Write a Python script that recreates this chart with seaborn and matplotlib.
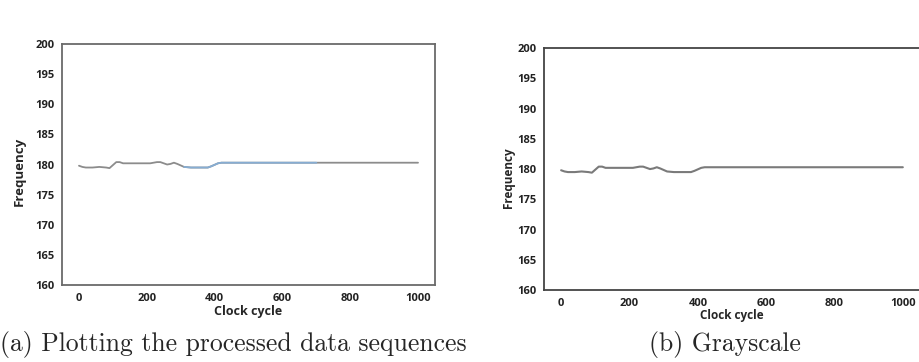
import matplotlib
matplotlib.use("Agg")
import matplotlib.pyplot as plt
import seaborn as sns
import pandas as pd

# Frequency trace over clock cycles (breakpoints of the piecewise trace)
clock = [0, 10, 20, 40, 60, 80, 90, 100, 110, 120, 130, 160, 200, 210, 230,
         240, 260, 270, 280, 290, 310, 330, 360, 380, 390, 410, 420, 500,
         600, 700, 800, 900, 1000]
freq = [179.8, 179.6, 179.5, 179.5, 179.6, 179.5, 179.4, 179.9, 180.4, 180.4,
        180.2, 180.2, 180.2, 180.2, 180.4, 180.4, 180.0, 180.1, 180.3, 180.1,
        179.6, 179.5, 179.5, 179.5, 179.7, 180.2, 180.3, 180.3, 180.3, 180.3,
        180.3, 180.3, 180.3]
y_ticks = [160, 165, 170, 175, 180, 185, 190, 195, 200]
x_ticks = [0, 200, 400, 600, 800, 1000]
captions = ["(a) Plotting the processed data sequences", "(b) Grayscale"]

sns.set_style("white")
plt.rcParams["font.family"] = ["Open Sans", "DejaVu Sans"]

df = pd.DataFrame({"Clock cycle": clock, "Frequency": freq})
blue_part = df[(df["Clock cycle"] >= 300) & (df["Clock cycle"] <= 750)]

fig = plt.figure(figsize=(9.19, 3.62), dpi=100)
ax_a = fig.add_axes([0.0675, 0.2127, 0.4058, 0.6657])
ax_b = fig.add_axes([0.592, 0.1990, 0.409, 0.668])

# (a) colour plot: gray trace with a blue stretch
sns.lineplot(data=df, x="Clock cycle", y="Frequency", ax=ax_a,
             color="#8c8c8c", lw=1.3)
sns.lineplot(data=blue_part, x="Clock cycle", y="Frequency", ax=ax_a,
             color="#86add3", lw=1.3)

# (b) grayscale version
sns.lineplot(data=df, x="Clock cycle", y="Frequency", ax=ax_b,
             color="#7a7a7a", lw=1.5)

for ax, sp_col in ((ax_a, "#6a6a6a"), (ax_b, "#444444")):
    ax.set_ylim(160, 200)
    ax.set_xlim(-50, 1050)
    ax.set_yticks(y_ticks)
    ax.set_xticks(x_ticks)
    ax.tick_params(axis="both", direction="out", length=3.5, width=0.8,
                   color="#666666", labelsize=8, pad=2)
    for lab in ax.get_xticklabels() + ax.get_yticklabels():
        lab.set_fontweight("bold")
        lab.set_color("#222222")
    for sp in ax.spines.values():
        sp.set_color(sp_col)
        sp.set_linewidth(1.3)

ax_a.set_xlabel("Clock cycle", fontsize=9, fontweight="bold", labelpad=1)
ax_a.set_ylabel("Frequency", fontsize=9.5, fontweight="bold")
ax_a.yaxis.set_label_coords(-0.097, 0.47)
ax_b.set_xlabel("Clock cycle", fontsize=8.5, fontweight="bold", labelpad=0)
ax_b.set_ylabel("Frequency", fontsize=8.5, fontweight="bold")
ax_b.yaxis.set_label_coords(-0.076, 0.465)
ax_b.spines["right"].set_visible(False)

fig.text(0.0, 0.047, captions[0], family=["cmr10", "DejaVu Serif"],
         fontsize=18.5, ha="left", va="center")
fig.text(0.789, 0.047, captions[1], family=["cmr10", "DejaVu Serif"],
         fontsize=18.5, ha="center", va="center")

fig.savefig("out.png", dpi=100, facecolor="white")
